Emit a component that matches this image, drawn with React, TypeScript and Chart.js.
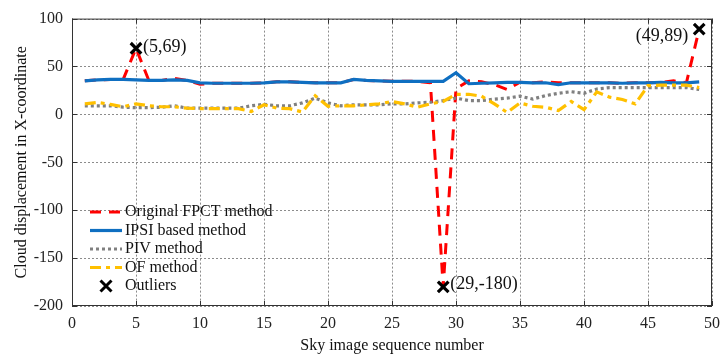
import { useEffect, useRef } from 'react';
import { Chart, registerables } from 'chart.js';

Chart.register(...registerables);

const seq = [1, 2, 3, 4, 5, 6, 7, 8, 9, 10, 11, 12, 13, 14, 15, 16, 17, 18, 19, 20, 21, 22, 23, 24, 25, 26, 27, 28, 29, 30, 31, 32, 33, 34, 35, 36, 37, 38, 39, 40, 41, 42, 43, 44, 45, 46, 47, 48, 49];

const fpct = [35, 36, 36.5, 36.5, 69, 35.5, 35.5, 37.5, 35.5, 31.5, 32.5, 32.5, 32.5, 32.5, 33, 34, 34, 33.5, 33, 33, 33, 36.5, 35.5, 35, 34.5, 34.5, 34.5, 33, -180, 27, 35, 34, 31, 26, 33.5, 33, 34, 33, 33, 33, 33, 33, 32.5, 33, 33, 33.5, 35, 33, 89];

const ipsi = [35, 36, 36.5, 36.5, 36, 35.5, 35.5, 36, 35.5, 33, 32.5, 32.5, 32.5, 32.5, 33, 34, 34, 33.5, 33, 33, 33, 36.5, 35.5, 35, 34.5, 34.5, 34.5, 34.5, 34.5, 43.5, 32, 32.5, 33, 33.5, 33.5, 33, 33, 31, 33, 33, 33, 33, 32.5, 33, 33, 33.5, 33, 33, 34];

const piv = [9, 9, 9, 7.5, 7, 7, 7.5, 9, 6.5, 6.5, 6.5, 6.5, 6.5, 9, 10.5, 9, 9, 12, 17, 12, 9, 10, 10, 10, 11, 11, 12, 12.7, 14.4, 17, 14.4, 14.4, 16, 17, 19, 16, 19.6, 22, 23.7, 22, 26.5, 28, 28, 28, 28, 28, 28, 28, 26];

const ofm = [11, 12.5, 10.5, 8, 11, 9, 8, 8, 6.5, 6, 6, 6, 6, 3, 10, 6.5, 6, 2.5, 19.5, 8.5, 9, 9, 10, 11, 13.5, 11, 7.5, 11, 13.5, 21, 21, 19, 11, 2, 12, 8.5, 7.5, 4, 13.5, 5, 23.5, 18, 15.5, 11, 30, 30.5, 30.5, 30.5, 28];

const outlierX = [5, 29, 49];
const outlierY = [69, -180, 89];
const outlierLabels = ['(5,69)', '(29,-180)', '(49,89)'];
const outlierLabelSide = ['right', 'right', 'left'];

const xTicks = [0, 5, 10, 15, 20, 25, 30, 35, 40, 45, 50];
const yTicks = [-200, -150, -100, -50, 0, 50, 100];

const seriesNames = ['Original FPCT method', 'IPSI based method', 'PIV method', 'OF method', 'Outliers'];

const FONT = '"Liberation Serif", "DejaVu Serif", serif';

const toXY = (ys: number[]) => seq.map((x, i) => ({ x, y: ys[i] }));

const gridPlugin = {
  id: 'dottedGrid',
  beforeDatasetsDraw(chart: any) {
    const { ctx, chartArea, scales } = chart;
    const { left, right, top, bottom } = chartArea;
    ctx.save();
    ctx.strokeStyle = '#8c8c8c';
    ctx.lineWidth = 1;
    ctx.setLineDash([2, 2]);
    ctx.beginPath();
    xTicks.forEach((v) => {
      const px = Math.round(scales.x.getPixelForValue(v)) + 0.5;
      ctx.moveTo(px, top); ctx.lineTo(px, bottom);
    });
    yTicks.forEach((v) => {
      const py = Math.round(scales.y.getPixelForValue(v)) + 0.5;
      ctx.moveTo(left, py); ctx.lineTo(right, py);
    });
    ctx.stroke();
    ctx.restore();
  },
};

const overlayPlugin = {
  id: 'overlay',
  afterDatasetsDraw(chart: any) {
    const { ctx, chartArea, scales } = chart;
    const { left, right, top, bottom } = chartArea;
    ctx.save();
    ctx.strokeStyle = '#333';
    ctx.lineWidth = 1;
    ctx.setLineDash([]);
    ctx.strokeRect(left + 0.5, top + 0.5, right - left - 1, bottom - top - 1);
    ctx.beginPath();
    xTicks.forEach((v) => {
      const px = Math.round(scales.x.getPixelForValue(v)) + 0.5;
      ctx.moveTo(px, bottom); ctx.lineTo(px, bottom - 5);
      ctx.moveTo(px, top); ctx.lineTo(px, top + 5);
    });
    yTicks.forEach((v) => {
      const py = Math.round(scales.y.getPixelForValue(v)) + 0.5;
      ctx.moveTo(left, py); ctx.lineTo(left + 5, py);
      ctx.moveTo(right, py); ctx.lineTo(right - 5, py);
    });
    ctx.stroke();

    ctx.fillStyle = '#111';
    ctx.font = `18px ${FONT}`;
    ctx.textBaseline = 'middle';
    outlierX.forEach((xv, i) => {
      const px = scales.x.getPixelForValue(xv);
      const py = scales.y.getPixelForValue(outlierY[i]);
      if (outlierLabelSide[i] === 'right') {
        ctx.textAlign = 'left';
        ctx.fillText(outlierLabels[i], px + 7, py - (i === 1 ? 3 : 1));
      } else {
        ctx.textAlign = 'right';
        ctx.fillText(outlierLabels[i], px - 11, py + 7);
      }
    });

    const datasets = chart.data.datasets;
    const lx0 = left + 18;
    const lx1 = left + 50;
    let ly = bottom - 94;
    ctx.font = `16px ${FONT}`;
    ctx.textAlign = 'left';
    ctx.textBaseline = 'middle';
    seriesNames.forEach((name, i) => {
      const ds = datasets[i];
      if (i < 4) {
        ctx.beginPath();
        ctx.strokeStyle = ds.borderColor;
        ctx.lineWidth = ds.borderWidth;
        ctx.setLineDash(ds.borderDash || []);
        ctx.moveTo(lx0, ly);
        ctx.lineTo(lx1, ly);
        ctx.stroke();
      } else {
        ctx.setLineDash([]);
        ctx.strokeStyle = '#000';
        ctx.lineWidth = 3;
        const cx = (lx0 + lx1) / 2, r = 5.5;
        ctx.beginPath();
        ctx.moveTo(cx - r, ly - r); ctx.lineTo(cx + r, ly + r);
        ctx.moveTo(cx + r, ly - r); ctx.lineTo(cx - r, ly + r);
        ctx.stroke();
      }
      ctx.setLineDash([]);
      ctx.fillStyle = '#111';
      ctx.fillText(name, lx1 + 3, ly);
      ly += 18.5;
    });
    ctx.restore();
  },
};

export default function App() {
  const ref = useRef<HTMLCanvasElement>(null);
  useEffect(() => {
    if (!ref.current) return;
    const chart = new Chart(ref.current, {
      type: 'line',
      data: {
        datasets: [
          { label: seriesNames[0], data: toXY(fpct), borderColor: '#ff0000', borderWidth: 3, borderDash: [11, 8], pointRadius: 0, order: 4 },
          { label: seriesNames[1], data: toXY(ipsi), borderColor: '#0f6fc1', borderWidth: 3.2, pointRadius: 0, order: 3 },
          { label: seriesNames[2], data: toXY(piv), borderColor: '#808080', borderWidth: 3.2, borderDash: [3, 3], pointRadius: 0, order: 2 },
          { label: seriesNames[3], data: toXY(ofm), borderColor: '#ffc000', borderWidth: 3.2, borderDash: [11, 5, 4, 5], pointRadius: 0, order: 1 },
          {
            label: seriesNames[4],
            data: outlierX.map((x, i) => ({ x, y: outlierY[i] })),
            showLine: false,
            pointStyle: 'crossRot',
            pointRadius: 7.5,
            pointBorderWidth: 3.2,
            borderColor: '#000',
            backgroundColor: '#000',
            order: 0,
          },
        ],
      },
      options: {
        responsive: false,
        animation: false,
        events: [],
        layout: { padding: { top: 15, right: 11, left: 0, bottom: 0 } },
        plugins: { legend: { display: false }, tooltip: { enabled: false } },
        scales: {
          x: {
            type: 'linear',
            min: 0,
            max: 50,
            afterFit: (s: any) => { s.height = 52; },
            afterBuildTicks: (s: any) => { s.ticks = xTicks.map((v) => ({ value: v })); },
            ticks: { font: { family: FONT, size: 16 }, color: '#222', padding: 8, maxRotation: 0 },
            grid: { display: false, drawTicks: false },
            border: { display: false },
            title: { display: true, text: 'Sky image sequence number', font: { family: FONT, size: 16 }, color: '#111', padding: { top: 0, bottom: 3 } },
          },
          y: {
            type: 'linear',
            min: -200,
            max: 100,
            afterFit: (s: any) => { s.width = 72; },
            afterBuildTicks: (s: any) => { s.ticks = yTicks.map((v) => ({ value: v })); },
            ticks: { font: { family: FONT, size: 16 }, color: '#222', padding: 9 },
            grid: { display: false, drawTicks: false },
            border: { display: false },
            title: { display: true, text: 'Cloud displacement in X-coordinate', font: { family: FONT, size: 16 }, color: '#111', padding: { top: 12, bottom: 0 } },
          },
        },
      },
      plugins: [gridPlugin, overlayPlugin],
    });
    return () => chart.destroy();
  }, []);
  return (
    <div style={{ position: 'absolute', left: 0, top: 0, width: 728, height: 358, background: '#fff' }}>
      <canvas ref={ref} width={728} height={358} />
    </div>
  );
}
